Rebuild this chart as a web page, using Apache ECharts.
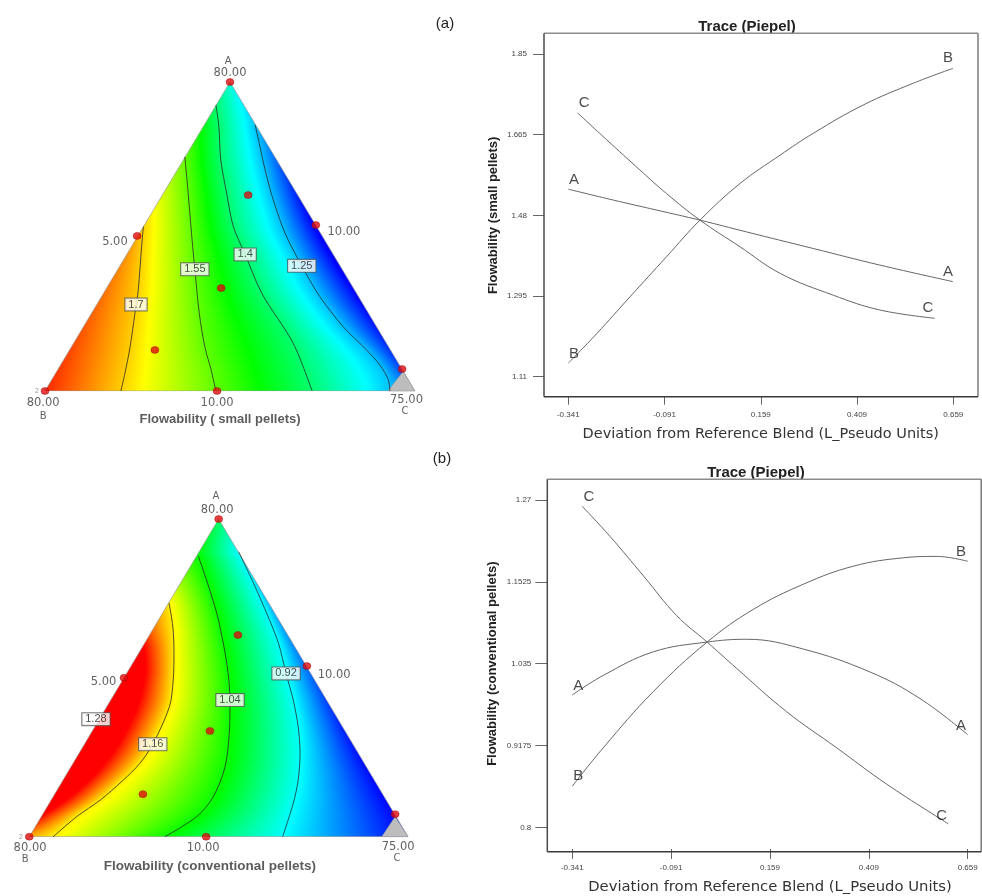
<!DOCTYPE html>
<html><head><meta charset="utf-8">
<script src="https://cdn.jsdelivr.net/npm/echarts@6/dist/echarts.min.js"></script>
<style>html,body{margin:0;padding:0;background:#fff}#c{width:982px;height:896px}</style>
</head><body><div id="c"></div>
<script>
// ================= DATA =================
// Ternary (simplex plane): u = position from B (0) to C (1), v = height toward A (0..1)
const designSmall = [[0.5,1],[0,0],[0.965,0.071],[0.249,0.502],[0.732,0.537],[0.465,0],[0.549,0.634],[0.476,0.333],[0.297,0.133]];
const designConv  = [[0.5,1],[0,0],[0.966,0.071],[0.250,0.500],[0.733,0.537],[0.467,0],[0.551,0.635],[0.477,0.333],[0.300,0.134]];
const infeasibleSmall = [[0.927,0],[1,0],[0.968,0.063]];
const infeasibleConv  = [[0.931,0],[1,0],[0.966,0.063]];
const triangleEdge = [[0,0],[1,0],[0.5,1],[0,0]];

// contour levels and contour lines
const levelsSmall = [1.7, 1.55, 1.4, 1.25];
const small170 = [[0.266,0.532],[0.261,0.467],[0.252,0.327],[0.243,0.251],[0.230,0.143],[0.216,0.057],[0.205,0]];
const small155 = [[0.378,0.758],[0.387,0.640],[0.396,0.510],[0.405,0.394],[0.417,0.251],[0.432,0.143],[0.449,0.068],[0.462,0]];
const small140 = [[0.462,0.926],[0.470,0.855],[0.475,0.748],[0.491,0.640],[0.509,0.532],[0.541,0.442],[0.586,0.316],[0.671,0.154],[0.722,0]];
const small125 = [[0.568,0.861],[0.581,0.791],[0.595,0.715],[0.617,0.618],[0.649,0.510],[0.694,0.405],[0.743,0.305],[0.806,0.208],[0.869,0.133],[0.905,0.084],[0.928,0.036],[0.932,0]];
const contourLabelsSmall = [[0.246,0.280,'1.7'],[0.405,0.394,'1.55'],[0.541,0.442,'1.4'],[0.694,0.405,'1.25']];
// response values along the triangle's left (A-B) and right (A-C) edges, estimated from colour: [v, value]
const leftEdgeSmall  = [[0,1.82],[0.25,1.78],[0.45,1.74],[0.532,1.7],[0.758,1.55],[0.926,1.4],[1,1.32]];
const rightEdgeSmall = [[0,1.19],[0.07,1.16],[0.3,1.11],[0.537,1.105],[0.7,1.16],[0.861,1.25],[1,1.32]];
const colorScaleSmall = [1.11, 1.295, 1.48, 1.665, 1.85];

const levelsConv = [1.16, 1.04, 0.92];
const conv116 = [[0.369,0.735],[0.379,0.661],[0.382,0.577],[0.380,0.493],[0.370,0.409],[0.326,0.291],[0.292,0.231],[0.248,0.178],[0.187,0.115],[0.125,0.063],[0.063,0]];
const conv104 = [[0.446,0.884],[0.468,0.808],[0.495,0.703],[0.514,0.598],[0.525,0.514],[0.530,0.430],[0.528,0.326],[0.517,0.220],[0.486,0.126],[0.442,0.063],[0.358,0]];
const conv092 = [[0.553,0.897],[0.592,0.798],[0.627,0.703],[0.658,0.609],[0.678,0.514],[0.697,0.430],[0.710,0.346],[0.715,0.263],[0.710,0.178],[0.697,0.105],[0.669,0]];
const contourLabelsConv = [[0.176,0.370,'1.28'],[0.326,0.291,'1.16'],[0.530,0.430,'1.04'],[0.678,0.514,'0.92']];
const leftEdgeConv  = [[0,1.19],[0.05,1.25],[0.12,1.32],[0.2,1.36],[0.35,1.38],[0.5,1.35],[0.58,1.29],[0.65,1.22],[0.735,1.16],[0.884,1.04],[1,0.99]];
const rightEdgeConv = [[0,0.80],[0.3,0.81],[0.537,0.85],[0.7,0.88],[0.897,0.92],[1,0.99]];
const colorScaleConv = [0.8, 0.9175, 1.035, 1.1525, 1.27];

// ternary annotation texts [u, v, text]
const vertexLettersSmall = [[0.495,1.066,'A'],[-0.005,-0.081,'B'],[0.973,-0.067,'C']];
const vertexTicksSmall = [[0.5,1.029,'80.00'],[0.189,0.482,'5.00'],[0.808,0.515,'10.00'],[-0.005,-0.040,'80.00'],[0.465,-0.040,'10.00'],[0.977,-0.029,'75.00']];
const ternTitleSmall = [[0.473,-0.091,'Flowability ( small pellets)']];
const vertexLettersConv = [[0.493,1.072,'A'],[-0.011,-0.073,'B'],[0.971,-0.067,'C']];
const vertexTicksConv = [[0.496,1.028,'80.00'],[0.196,0.487,'5.00'],[0.805,0.509,'10.00'],[0.002,-0.036,'80.00'],[0.459,-0.036,'10.00'],[0.974,-0.032,'75.00']];
const ternTitleConv = [[0.477,-0.092,'Flowability (conventional pellets)']];
const cornerMark = [[-0.022,0,'2']];

// Trace (Piepel) plots: [deviation, response]
const traceSmallA = [[-0.341,1.540],[-0.224,1.515],[-0.111,1.492],[0.001,1.469],[0.122,1.442],[0.295,1.404],[0.468,1.366],[0.658,1.328]];
const traceSmallB = [[-0.341,1.141],[-0.267,1.209],[-0.181,1.293],[-0.086,1.385],[0.001,1.469],[0.105,1.553],[0.209,1.618],[0.295,1.668],[0.425,1.733],[0.555,1.783],[0.658,1.817]];
const traceSmallC = [[-0.317,1.715],[-0.241,1.653],[-0.155,1.584],[-0.086,1.530],[0.001,1.469],[0.105,1.408],[0.209,1.347],[0.347,1.297],[0.468,1.263],[0.611,1.244]];
const traceLabelsSmall = [[-0.300,1.737,'C'],[-0.326,1.561,'A'],[-0.326,1.162,'B'],[0.645,1.841,'B'],[0.645,1.350,'A'],[0.593,1.267,'C']];
const traceConvA = [[-0.341,0.990],[-0.263,1.018],[-0.136,1.052],[0.0,1.066],[0.100,1.070],[0.243,1.056],[0.412,1.023],[0.538,0.985],[0.659,0.933]];
const traceConvB = [[-0.341,0.859],[-0.263,0.914],[-0.136,0.995],[0.0,1.066],[0.117,1.113],[0.243,1.149],[0.370,1.175],[0.496,1.187],[0.581,1.189],[0.659,1.182]];
const traceConvC = [[-0.316,1.261],[-0.246,1.218],[-0.161,1.161],[-0.077,1.104],[0.0,1.066],[0.075,1.028],[0.201,0.966],[0.328,0.914],[0.454,0.862],[0.610,0.805]];
const traceLabelsConv = [[-0.299,1.275,'C'],[-0.326,1.003,'A'],[-0.326,0.874,'B'],[0.642,1.196,'B'],[0.642,0.945,'A'],[0.593,0.817,'C']];
const traceXTicks = {min:-0.341, max:0.659, step:0.25};
const traceYTicksSmall = {min:1.11, max:1.85, step:0.185};
const traceYTicksConv = {min:0.8, max:1.27, step:0.1175};

// ================= HELPERS =================
const PALETTE = [[0,0,255],[0,255,255],[0,255,0],[255,255,0],[255,0,0]];
function colorOf(val, knots){
  if (val <= knots[0]) return 'rgb(' + PALETTE[0].join(',') + ')';
  if (val >= knots[knots.length-1]) return 'rgb(' + PALETTE[PALETTE.length-1].join(',') + ')';
  for (let i=0;i<knots.length-1;i++){
    if (val <= knots[i+1]){
      const t=(val-knots[i])/(knots[i+1]-knots[i]);
      const a=PALETTE[i], b=PALETTE[i+1];
      return 'rgb(' + [0,1,2].map(k=>Math.round(a[k]+(b[k]-a[k])*t)).join(',') + ')';
    }
  }
}
// smooth (cubic Hermite) interpolation of edge values, used only for shading
function interpEdge(edge, v){
  const n=edge.length;
  if (v<=edge[0][0]) return edge[0][1];
  if (v>=edge[n-1][0]) return edge[n-1][1];
  const slope=i=>{
    const a=edge[Math.max(0,i-1)], b=edge[Math.min(n-1,i+1)];
    return (b[1]-a[1])/(b[0]-a[0]);
  };
  for (let i=0;i<n-1;i++){
    const x0=edge[i][0], x1=edge[i+1][0];
    if (v<=x1){
      const h=x1-x0, t=(v-x0)/h, t2=t*t, t3=t2*t;
      const y0=edge[i][1], y1=edge[i+1][1], m0=slope(i)*h, m1=slope(i+1)*h;
      return (2*t3-3*t2+1)*y0+(t3-2*t2+t)*m0+(-2*t3+3*t2)*y1+(t3-t2)*m1;
    }
  }
  return edge[n-1][1];
}
// dense Catmull-Rom version of a contour polyline, used only for shading
function densify(pts, k){
  const out=[];
  for (let i=0;i<pts.length-1;i++){
    const p0=pts[Math.max(0,i-1)], p1=pts[i], p2=pts[i+1], p3=pts[Math.min(pts.length-1,i+2)];
    for (let j=0;j<k;j++){
      const t=j/k, t2=t*t, t3=t2*t;
      out.push([0,1].map(d=>0.5*((2*p1[d])+(-p0[d]+p2[d])*t+(2*p0[d]-5*p1[d]+4*p2[d]-p3[d])*t2+(-p0[d]+3*p1[d]-3*p2[d]+p3[d])*t3)));
    }
  }
  out.push(pts[pts.length-1]);
  return out;
}
function crossU(pts, v){
  for (let i=0;i<pts.length-1;i++){
    const a=pts[i], b=pts[i+1];
    if ((a[1]-v)*(b[1]-v)<=0 && a[1]!==b[1]) return a[0]+(v-a[1])/(b[1]-a[1])*(b[0]-a[0]);
  }
  return null;
}
function makeFill(contours, leftEdge, rightEdge, knots){
  const dense=contours.map(c=>({level:c.level,pts:densify(c.pts,10)}));
  return function(params, api){
    const yB = api.coord([0,0])[1], yA = api.coord([0.5,1])[1];
    const children=[];
    const rStart=Math.floor(yA), rEnd=Math.ceil(yB);
    for (let r=rStart;r<rEnd;r++){
      const yc=r+0.5;
      let vm=(yB-yc)/(yB-yA);
      vm=Math.min(1,Math.max(0,vm));
      const uL=vm/2, uR=1-vm/2;
      // exact coverage of this pixel row
      const vTop=Math.min(1,Math.max(0,(yB-r)/(yB-yA))), vBot=Math.min(1,Math.max(0,(yB-(r+1))/(yB-yA)));
      const pts=[api.coord([vBot/2,vBot]),api.coord([1-vBot/2,vBot]),api.coord([1-vTop/2,vTop]),api.coord([vTop/2,vTop])];
      pts.forEach(p=>{ if(p[1]<r) p[1]=r; if(p[1]>r+1) p[1]=r+1; });
      pts[0][1]=r+1; pts[1][1]=r+1; pts[2][1]=r; pts[3][1]=r;
      if (r+1>yB){ pts[0][1]=yB; pts[1][1]=yB; }
      if (r<yA){ pts[2][1]=yA; pts[3][1]=yA; }
      const stops=[{u:uL,val:interpEdge(leftEdge,vm)}];
      dense.forEach(c=>{ const u=crossU(c.pts,vm); if(u!==null && u>uL && u<uR) stops.push({u:u,val:c.level}); });
      stops.push({u:uR,val:interpEdge(rightEdge,vm)});
      stops.sort((a,b)=>a.u-b.u);
      let cs=[];
      const span=Math.max(1e-6,uR-uL);
      const off=u=>Math.min(1,Math.max(0,(u-uL)/span));
      for (let k=0;k<stops.length;k++){
        const s=stops[k];
        cs.push({offset:off(s.u),color:colorOf(s.val,knots)});
        if (k<stops.length-1){
          const t=stops[k+1];
          const lo=Math.min(s.val,t.val), hi=Math.max(s.val,t.val);
          const inner=knots.filter(q=>q>lo&&q<hi).map(q=>({u:s.u+(q-s.val)/(t.val-s.val)*(t.u-s.u),q:q}));
          inner.sort((a,b)=>a.u-b.u);
          inner.forEach(o=>cs.push({offset:off(o.u),color:colorOf(o.q,knots)}));
        }
      }
      cs=cs.map((c,i)=>({c:c,i:i})).sort((a,b)=>a.c.offset-b.c.offset||a.i-b.i).map(o=>o.c);
      const xl=api.coord([uL,vm])[0], xr=Math.max(xl+0.01,api.coord([uR,vm])[0]);
      children.push({type:'polygon',silent:true,shape:{points:pts},
        style:{fill:{type:'linear',x:xl,y:0,x2:xr,y2:0,global:true,colorStops:cs}}});
    }
    return {type:'group',children:children};
  };
}
function polygonRender(pointsData, fill, stroke){
  return function(params, api){
    return {type:'polygon',shape:{points:pointsData.map(p=>api.coord(p))},style:{fill:fill,stroke:stroke,lineWidth:0.6}};
  };
}
const fmt = v => String(Number(v.toFixed(4)));

function ternarySeries(idx, o){
  const s=[];
  s.push({type:'custom',xAxisIndex:idx,yAxisIndex:idx,data:[[0,0]],z:1,silent:true,
    renderItem:makeFill(o.contours,o.leftEdge,o.rightEdge,o.knots)});
  s.push({type:'line',xAxisIndex:idx,yAxisIndex:idx,data:triangleEdge,showSymbol:false,silent:true,z:2,
    lineStyle:{color:'#9a9a9a',width:0.7}});
  s.push({type:'custom',xAxisIndex:idx,yAxisIndex:idx,data:[[0,0]],z:3,silent:true,
    renderItem:polygonRender(o.infeasible,'#bdbdbd','#a0a0a0')});
  o.contours.forEach(c=>{
    s.push({type:'line',xAxisIndex:idx,yAxisIndex:idx,data:c.pts,smooth:0.3,showSymbol:false,silent:true,z:4,
      lineStyle:{color:'#2a2a2a',width:0.8}});
  });
  s.push({type:'scatter',xAxisIndex:idx,yAxisIndex:idx,data:o.design,symbol:'circle',symbolSize:[8,7],z:6,clip:false,
    itemStyle:{color:'#dd0c0c',borderColor:'#9a0000',borderWidth:0.5}});
  s.push({type:'scatter',xAxisIndex:idx,yAxisIndex:idx,data:o.labels,symbolSize:0,z:7,clip:false,
    label:{show:true,position:'inside',formatter:p=>p.data[2],fontFamily:'Liberation Sans',fontSize:11,color:'#222',
      backgroundColor:'#ffffff',borderColor:'#555',borderWidth:1,padding:[1,3,0,3]}});
  s.push({type:'scatter',xAxisIndex:idx,yAxisIndex:idx,data:o.ticks,symbolSize:0,z:7,clip:false,
    label:{show:true,position:'inside',formatter:p=>p.data[2],fontFamily:'DejaVu Sans',fontSize:11.5,color:'#3a3a3a'}});
  s.push({type:'scatter',xAxisIndex:idx,yAxisIndex:idx,data:o.letters,symbolSize:0,z:7,clip:false,
    label:{show:true,position:'inside',formatter:p=>p.data[2],fontFamily:'DejaVu Sans',fontSize:10,color:'#3a3a3a'}});
  s.push({type:'scatter',xAxisIndex:idx,yAxisIndex:idx,data:o.title,symbolSize:0,z:7,clip:false,
    label:{show:true,position:'inside',formatter:p=>p.data[2],fontFamily:'Liberation Sans',fontWeight:'bold',fontSize:o.titleSize,color:'#333'}});
  s.push({type:'scatter',xAxisIndex:idx,yAxisIndex:idx,data:cornerMark,symbolSize:0,z:7,clip:false,
    label:{show:true,position:'inside',formatter:p=>p.data[2],fontFamily:'DejaVu Sans',fontSize:7,color:'#888'}});
  return s;
}
function traceSeries(idx, lines, labels){
  const s=lines.map(d=>({type:'line',xAxisIndex:idx,yAxisIndex:idx,data:d,smooth:0.4,showSymbol:false,silent:true,clip:false,
    lineStyle:{color:'#666666',width:1}}));
  s.push({type:'scatter',xAxisIndex:idx,yAxisIndex:idx,data:labels,symbolSize:0,clip:false,z:5,
    label:{show:true,position:'inside',formatter:p=>p.data[2],fontFamily:'Liberation Sans',fontSize:15,color:'#1a1a1a'}});
  return s;
}
const hiddenAxis = i => ({type:'value',gridIndex:i,min:0,max:1,show:false});
function traceX(i, off, tickLen, margin, gap, nameSize){
  return {type:'value',gridIndex:i,min:traceXTicks.min,max:traceXTicks.max,interval:traceXTicks.step,position:'bottom',offset:off,
    axisLine:{show:false,onZero:false},splitLine:{show:false},
    axisTick:{show:true,length:tickLen,lineStyle:{color:'#666',width:1}},
    axisLabel:{formatter:fmt,fontFamily:'Liberation Sans',fontSize:8,color:'#444',margin:margin,showMinLabel:true,showMaxLabel:true},
    name:'Deviation from Reference Blend (L_Pseudo Units)',nameLocation:'middle',nameGap:gap,
    nameTextStyle:{fontFamily:'DejaVu Sans',fontSize:nameSize,color:'#333'}};
}
function traceY(i, t, off, tickLen, margin, name, gap){
  return {type:'value',gridIndex:i,min:t.min,max:t.max,interval:t.step,position:'left',offset:off,
    axisLine:{show:false,onZero:false},splitLine:{show:false},
    axisTick:{show:true,length:tickLen,lineStyle:{color:'#666',width:1}},
    axisLabel:{formatter:fmt,fontFamily:'Liberation Sans',fontSize:8,color:'#444',margin:margin,showMinLabel:true,showMaxLabel:true},
    name:name,nameLocation:'middle',nameGap:gap,nameRotate:90,
    nameTextStyle:{fontFamily:'Liberation Sans',fontWeight:'bold',fontSize:13,color:'#222'}};
}
function frame(l,t,r,b){
  return [
    {type:'line',z:50,shape:{x1:l,y1:t,x2:r,y2:t},style:{stroke:'#8c8c8c',lineWidth:1.5}},
    {type:'line',z:50,shape:{x1:r,y1:t,x2:r,y2:b},style:{stroke:'#7a7a7a',lineWidth:1.5}},
    {type:'line',z:50,shape:{x1:l,y1:t,x2:l,y2:b},style:{stroke:'#4a4a4a',lineWidth:1.5}},
    {type:'line',z:50,shape:{x1:l,y1:b,x2:r,y2:b},style:{stroke:'#3a3a3a',lineWidth:1.5}}
  ];
}
function txt(x,y,text,font,color){
  return {type:'text',z:40,x:x,y:y,style:{text:text,font:font,fill:color||'#222',align:'center',verticalAlign:'middle',textAlign:'center',textVerticalAlign:'middle'}};
}

// ================= CHART =================
const chart = echarts.init(document.getElementById('c'), null, {renderer:'canvas'});
const series = [].concat(
  ternarySeries(0,{contours:[{level:levelsSmall[0],pts:small170},{level:levelsSmall[1],pts:small155},{level:levelsSmall[2],pts:small140},{level:levelsSmall[3],pts:small125}],
    leftEdge:leftEdgeSmall,rightEdge:rightEdgeSmall,knots:colorScaleSmall,infeasible:infeasibleSmall,design:designSmall,
    labels:contourLabelsSmall,ticks:vertexTicksSmall,letters:vertexLettersSmall,title:ternTitleSmall,titleSize:13}),
  ternarySeries(1,{contours:[{level:levelsConv[0],pts:conv116},{level:levelsConv[1],pts:conv104},{level:levelsConv[2],pts:conv092}],
    leftEdge:leftEdgeConv,rightEdge:rightEdgeConv,knots:colorScaleConv,infeasible:infeasibleConv,design:designConv,
    labels:contourLabelsConv,ticks:vertexTicksConv,letters:vertexLettersConv,title:ternTitleConv,titleSize:13.5}),
  traceSeries(2,[traceSmallA,traceSmallB,traceSmallC],traceLabelsSmall),
  traceSeries(3,[traceConvA,traceConvB,traceConvC],traceLabelsConv)
);
chart.setOption({
  animation:false,
  backgroundColor:'#ffffff',
  grid:[
    {left:45,top:82,width:370,height:309},
    {left:29.3,top:519,width:378.7,height:317.7},
    {left:568.3,top:54,width:385,height:322.7},
    {left:572.3,top:500,width:395.4,height:330}
  ],
  xAxis:[hiddenAxis(0),hiddenAxis(1),traceX(2,20,8,14,30,14.5),traceX(3,21.7,10,15,31,14.8)],
  yAxis:[hiddenAxis(0),hiddenAxis(1),
    traceY(2,traceYTicksSmall,24.3,11,17,'Flowability (small pellets)',44),
    traceY(3,traceYTicksConv,25,12,16,'Flowability (conventional pellets)',48)],
  series:series,
  graphic:[].concat(
    [txt(445,24,'(a)','15px Liberation Sans','#222'),
     txt(442,459,'(b)','15px Liberation Sans','#222'),
     txt(747,27,'Trace (Piepel)','bold 15px Liberation Sans','#222'),
     txt(756,473,'Trace (Piepel)','bold 15px Liberation Sans','#222')],
    frame(544,33.3,978,396.7),
    frame(547.3,479.3,981.2,851.7)
  )
});
</script></body></html>
